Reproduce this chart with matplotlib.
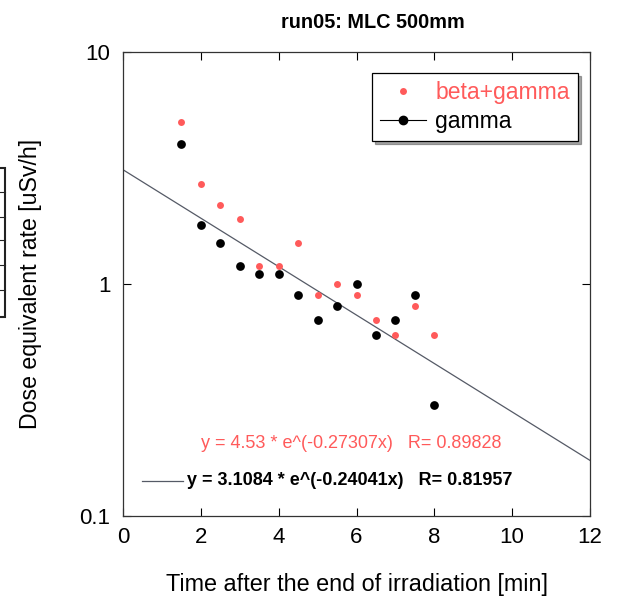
import numpy as np
import matplotlib
matplotlib.use("Agg")
import matplotlib.pyplot as plt
from matplotlib.lines import Line2D
from matplotlib.patches import Rectangle

plt.rcParams['font.family'] = ['Liberation Sans', 'DejaVu Sans']

time_min = [1.5, 2, 2.5, 3, 3.5, 4, 4.5, 5, 5.5, 6, 6.5, 7, 7.5, 8]
beta_gamma = [5.0, 2.7, 2.2, 1.9, 1.2, 1.2, 1.5, 0.9, 1.0, 0.9, 0.7, 0.6, 0.8, 0.6]
gamma = [4.0, 1.8, 1.5, 1.2, 1.1, 1.1, 0.9, 0.7, 0.8, 1.0, 0.6, 0.7, 0.9, 0.3]
fit_a, fit_b = 3.1084, 0.24041
x_ticks = [0, 2, 4, 6, 8, 10, 12]
y_ticks = [0.1, 1, 10]
y_ticklabels = ['0.1', '1', '10']

W, H = 622, 597
RED = '#ff5a5a'
fig = plt.figure(figsize=(W / 100, H / 100), dpi=100)
L, R, T, B = 123, 590, 52, 516
ax = fig.add_axes([L / W, 1 - B / H, (R - L) / W, (B - T) / H])
ax.set_yscale('log')
ax.set_xlim(0, 12)
ax.set_ylim(0.1, 10)

xf = np.linspace(0, 12, 200)
ax.plot(xf, fit_a * np.exp(-fit_b * xf), color='#555a66', lw=0.9, zorder=2)
ax.plot(time_min, beta_gamma, 'o', color=RED, ms=5, mec='none', zorder=3)
ax.plot(time_min, gamma, 'o', color='black', ms=6.3, mec='none', zorder=3)

ax.set_xticks(x_ticks)
ax.set_xticklabels([str(t) for t in x_ticks])
ax.set_yticks(y_ticks)
ax.set_yticklabels(y_ticklabels)
ax.yaxis.set_minor_locator(matplotlib.ticker.NullLocator())
ax.tick_params(direction='in', top=True, right=True, labelsize=16, length=6, width=0.8)
ax.tick_params(axis='x', pad=8)
ax.tick_params(axis='y', pad=9)
for s in ax.spines.values():
    s.set_linewidth(0.9)
    s.set_color('#333333')

ax.set_title('run05: MLC 500mm', fontsize=14.3, fontweight='bold', pad=17,
             x=(373 - L) / (R - L))
ax.set_xlabel('Time after the end of irradiation [min]', fontsize=16.8, labelpad=18)
ax.set_ylabel('Dose equivalent rate [uSv/h]', fontsize=16.7, labelpad=27)

handles = [Line2D([], [], marker='o', ls='none', color=RED, ms=5, mec='none'),
           Line2D([], [], marker='o', ls='-', color='black', ms=6, lw=0.8)]
leg = ax.legend(handles, ['beta+gamma', 'gamma'], loc='upper right', fontsize=16.5,
                frameon=True, fancybox=False, shadow=True, framealpha=1,
                edgecolor='black', bbox_to_anchor=((578 - L) / (R - L), 1 - (73 - T) / (B - T)),
                borderaxespad=0, handlelength=2.0, handletextpad=0.4,
                labelspacing=0.25, borderpad=0.35)
leg.get_texts()[0].set_color(RED)
leg.get_frame().set_linewidth(0.9)

ax.text((351 - L) / (R - L), 1 - (444 - T) / (B - T), 'y = 4.53 * e^(-0.27307x)   R= 0.89828',
        transform=ax.transAxes, color=RED, fontsize=13, ha='center', va='center')
ax.plot([(142 - L) / (R - L), (183 - L) / (R - L)], [1 - (481 - T) / (B - T)] * 2,
        transform=ax.transAxes, color='#555a66', lw=0.9)
ax.text((187 - L) / (R - L), 1 - (481 - T) / (B - T), 'y = 3.1084 * e^(-0.24041x)   R= 0.81957',
        transform=ax.transAxes, color='black', fontsize=13, ha='left', va='center', fontweight='bold')

# fragment of neighbouring panel at left edge
fig.add_artist(Rectangle((-0.01, 1 - 317 / H), 0.018, (317 - 168) / H,
                         transform=fig.transFigure, fill=False, lw=1.5, ec='#222222'))
for yp in [192, 217, 240, 265, 290]:
    fig.add_artist(Line2D([0, 0.008], [1 - yp / H] * 2, transform=fig.transFigure,
                          color='#222222', lw=0.8))

fig.savefig('out.png', dpi=100)
